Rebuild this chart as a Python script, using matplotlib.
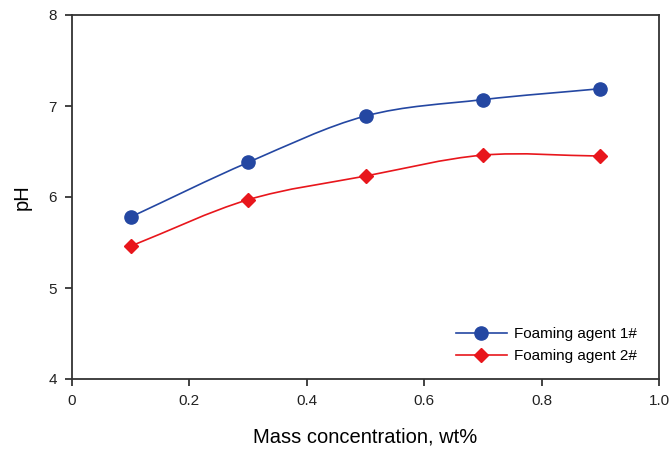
import matplotlib
matplotlib.use("Agg")
import matplotlib.pyplot as plt
import numpy as np
from matplotlib.path import Path
from matplotlib.patches import PathPatch

plt.rcParams['font.family'] = ['Liberation Sans', 'DejaVu Sans']

conc = [0.1, 0.3, 0.5, 0.7, 0.9]
ph_agent1 = [5.78, 6.38, 6.89, 7.07, 7.19]
ph_agent2 = [5.46, 5.97, 6.23, 6.46, 6.45]
labels = ["Foaming agent 1#", "Foaming agent 2#"]
colors = ["#2447a2", "#e8161c"]
markers = ["o", "D"]


def smooth_path(x, y):
    # Catmull-Rom curve through the points, drawn as cubic Bezier segments
    x = np.asarray(x, float)
    y = np.asarray(y, float)
    n = len(x)
    dx = np.gradient(x)
    dy = np.gradient(y)
    verts = [(x[0], y[0])]
    codes = [Path.MOVETO]
    for i in range(n - 1):
        verts.append((x[i] + dx[i] / 3, y[i] + dy[i] / 3))
        verts.append((x[i + 1] - dx[i + 1] / 3, y[i + 1] - dy[i + 1] / 3))
        verts.append((x[i + 1], y[i + 1]))
        codes += [Path.CURVE4] * 3
    return Path(verts, codes)


fig = plt.figure(figsize=(6.71, 4.49), dpi=100)
# axes box: x 72..659 px, y 15..379 px
ax = fig.add_axes([72 / 671, 70 / 449, 587 / 671, 364 / 449])

for ys, lab, c, m in zip([ph_agent1, ph_agent2], labels, colors, markers):
    ms = 9.5 if m == 'o' else 7
    ax.add_patch(PathPatch(smooth_path(conc, ys), facecolor='none', edgecolor=c, lw=1.2))
    ax.plot(conc, ys, linestyle='none', marker=m, color=c, markersize=ms)
    ax.plot([], [], color=c, marker=m, lw=1.2, label=lab, markersize=ms)

ax.set_xlim(0, 1.0)
ax.set_ylim(4, 8)
ax.set_xticks([0, 0.2, 0.4, 0.6, 0.8, 1.0])
ax.set_xticklabels(["0", "0.2", "0.4", "0.6", "0.8", "1.0"])
ax.set_yticks([4, 5, 6, 7, 8])
ax.tick_params(direction='out', length=5, width=1.2, labelsize=11, colors='#222222', pad=6)
for s in ax.spines.values():
    s.set_color('#333333')
    s.set_linewidth(1.3)

ax.set_xlabel("Mass concentration, wt%", fontsize=14.5, labelpad=14)
ax.set_ylabel("pH", fontsize=14.5, labelpad=12)

ax.legend(loc='lower right', bbox_to_anchor=(0.986, 0.006), frameon=False,
          fontsize=11, handlelength=3.3, handletextpad=0.5, labelspacing=0.5)

fig.savefig("out.png", dpi=100)
